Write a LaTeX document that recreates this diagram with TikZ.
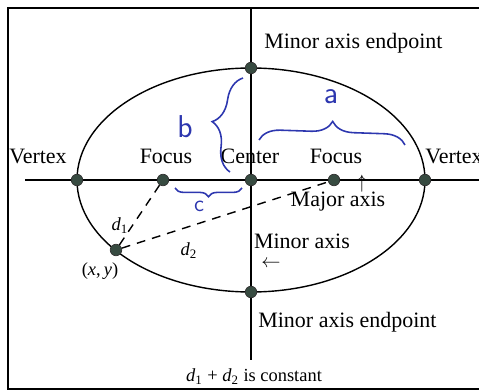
\documentclass[tikz,border=0pt]{standalone}
\usepackage{fontspec}
\setmainfont{Liberation Serif}
\usepackage{tikz}
\usetikzlibrary{positioning, decorations.pathreplacing}
\definecolor{DotGreen}{RGB}{55,75,65}
\definecolor{PenBlue}{RGB}{45,55,175}

\begin{document}
\begin{tikzpicture}[x=0.02cm, y=-0.02cm,
    dot/.style={circle, fill=DotGreen, draw=black!80, inner sep=0pt, minimum size=0.23cm},
    lbl/.style={font=\fontsize{12.5}{15}\selectfont, inner sep=0pt},
    small lbl/.style={font=\fontsize{10.5}{12}\selectfont, inner sep=0pt},
    pen/.style={PenBlue, line width=0.9pt, decorate},
    hand/.style={PenBlue, inner sep=0pt}]
  \useasboundingbox (0,0) rectangle (479,391);
  % frame (open on the right)
  \draw[line width=1pt] (490,8) -- (8,8) -- (8,389) -- (490,389);
  % axes
  \coordinate (xl) at (25,180);
  \coordinate (xr) at (490,180);
  \coordinate (yt) at (251,8);
  \coordinate (yb) at (251,360);
  \draw[line width=0.8pt] (xl) -- (xr);
  \draw[line width=0.8pt] (yt) -- (yb);
  \draw[line width=0.8pt] (251,180) ellipse [x radius=174, y radius=112];
  % points
  \node[dot] (C) at (251,180) {};
  \node[dot] (V1) at (77,180) {};
  \node[dot] (V2) at (425,180) {};
  \node[dot] (F1) at (163,180) {};
  \node[dot] (F2) at (334,180) {};
  \node[dot] (T) at (251,68) {};
  \node[dot] (B) at (251,292) {};
  \node[dot] (P) at (116,250) {};
  \draw[dashed, line width=0.8pt, dash pattern=on 5pt off 4pt] (P) -- (F1);
  \draw[dashed, line width=0.8pt, dash pattern=on 5pt off 4pt] (P) -- (F2);
  % labels
  \node[lbl, anchor=west] (tlab) at (264,43) {Minor axis endpoint};
  \node[lbl] (v1lab) at (38,156) {Vertex};
  \node[lbl] (f1lab) at (166,156) {Focus};
  \node[lbl] (clab) at (250,156) {Center};
  \node[lbl] (f2lab) at (336,156) {Focus};
  \node[lbl, anchor=west] (v2lab) at (425,156) {Vertex};
  \node[lbl] (majlab) at (338,202) {Major axis};
  \node[small lbl] (majarr) at (362,184) {$\uparrow$};
  \node[lbl] (minlab) at (302,241) {Minor axis};
  \node[small lbl] (minarr) at (271,264) {$\leftarrow$};
  \node[lbl, anchor=west] (blab) at (258,322) {Minor axis endpoint};
  \node[small lbl] (d1) at (120,226) {\textit{d}\textsubscript{1}};
  \node[small lbl] (d2) at (189,251) {\textit{d}\textsubscript{2}};
  \node[small lbl] (plab) at (100,271) {(\textit{x},\,\textit{y})};
  \node[small lbl] (sum) at (254,377) {\textit{d}\textsubscript{1} + \textit{d}\textsubscript{2} is constant};
  % handwritten a, b, c
  \draw[pen, decoration={brace, amplitude=14pt}] (230,172) -- (243,78);
  \node[hand, font=\sffamily\fontsize{18}{18}\selectfont] (bl) at (185,127) {b};
  \draw[pen, decoration={brace, amplitude=12pt}] (259,140) -- (405,145);
  \node[hand, font=\sffamily\fontsize{18}{18}\selectfont] (al) at (331,97) {a};
  \draw[pen, decoration={brace, amplitude=5pt}] (242,188) -- (175,188);
  \node[hand, font=\sffamily\fontsize{13}{13}\selectfont] (cl) at (199,206) {c};
\end{tikzpicture}
\end{document}
